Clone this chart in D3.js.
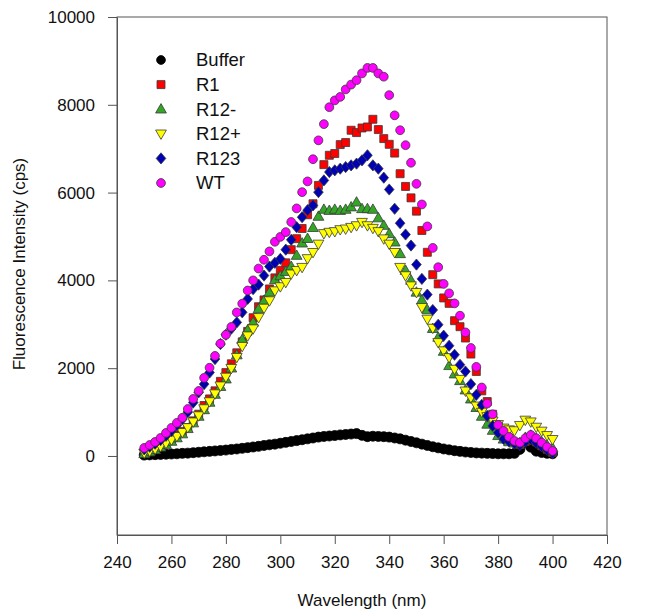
<!DOCTYPE html>
<html>
<head>
<meta charset="utf-8">
<script src="https://cdn.jsdelivr.net/npm/d3@7"></script>
<style>
body { margin: 0; background: #fff; }
text { font-family: "Liberation Sans", Arial, sans-serif; fill: #111; }
</style>
</head>
<body>
<svg id="chart" width="651" height="613"></svg>
<script>
// wavelength (nm), one reading every 2 nm
var wavelength = [250,252,254,256,258,260,262,264,266,268,
  270,272,274,276,278,280,282,284,286,288,
  290,292,294,296,298,300,302,304,306,308,
  310,312,314,316,318,320,322,324,326,328,
  330,332,334,336,338,340,342,344,346,348,
  350,352,354,356,358,360,362,364,366,368,
  370,372,374,376,378,380,382,384,386,388,
  390,392,394,396,398,400];

var buffer = [20,25,30,35,40,45,50,60,65,75,
  85,95,105,115,125,135,150,160,175,190,
  205,220,240,255,270,290,310,330,350,370,
  390,410,430,445,455,465,480,490,500,510,
  470,440,450,445,440,430,410,390,360,330,
  300,270,240,210,185,160,140,120,105,90,
  80,70,65,60,55,50,50,50,60,150,
  300,200,110,80,60,50];

var r1 = [60,100,150,210,280,380,480,560,646,800,
  952,1150,1300,1484,1700,1900,2100,2350,2600,2838,
  3150,3400,3555,3805,4057,4230,4400,4700,4950,5182,
  5495,5746,6164,6637,6850,6890,7093,7140,7420,7367,
  7472,7495,7670,7436,7230,7100,6900,6430,6140,5880,
  5577,5137,4640,4130,3920,3600,3477,3082,2945,2687,
  2322,1925,1484,1240,950,700,520,400,310,260,
  330,400,320,230,150,80];

var r12minus = [50,90,140,200,260,330,410,500,620,750,
  900,1050,1220,1400,1580,1750,2000,2300,2650,2870,
  3043,3350,3540,3728,4011,4100,4200,4315,4566,4847,
  4950,5200,5456,5615,5590,5615,5590,5615,5670,5780,
  5630,5630,5615,5420,5250,5060,4870,4605,4224,4000,
  3728,3550,3326,2900,2700,2380,2055,1865,1712,1500,
  1294,1100,900,720,580,460,380,320,290,300,
  420,470,400,320,240,180];

var r12plus = [70,110,160,220,290,370,450,540,650,780,
  920,1080,1240,1420,1600,1800,2000,2250,2500,2740,
  2900,3157,3372,3540,3767,3860,3957,4150,4230,4300,
  4500,4640,4830,5070,5100,5115,5160,5175,5212,5250,
  5326,5250,5190,5115,4950,4830,4640,4300,4110,3880,
  3728,3386,3120,2915,2587,2400,2245,1980,1750,1484,
  1330,1142,1000,900,800,720,640,600,580,700,
  820,780,660,570,470,380];

var r123 = [150,210,280,360,460,570,700,840,1000,1217,
  1450,1637,1900,2208,2550,2762,2900,3043,3272,3577,
  3800,3904,4110,4315,4400,4490,4700,4925,5212,5440,
  5600,5708,6010,6278,6468,6507,6545,6582,6620,6660,
  6735,6850,6620,6545,6340,6070,5632,5303,5045,4794,
  4360,4034,3676,3326,2990,2740,2511,2306,2078,1925,
  1637,1393,1164,913,685,532,388,330,280,250,
  320,380,300,220,140,70];

var wt = [183,250,320,410,525,640,755,870,1070,1300,
  1480,1780,2010,2280,2560,2760,2940,3270,3470,3770,
  4000,4270,4470,4660,4880,4990,5100,5330,5640,6010,
  6255,6760,7190,7560,7945,8100,8180,8350,8460,8560,
  8715,8840,8840,8715,8640,8220,7760,7420,7080,6680,
  6200,5730,5230,4740,4300,3920,3705,3477,3196,2815,
  2460,2030,1560,1195,950,708,570,434,342,304,
  404,480,404,304,205,114];

var seriesNames = ["Buffer", "R1", "R12-", "R12+", "R123", "WT"];
var seriesValues = [buffer, r1, r12minus, r12plus, r123, wt];
var seriesColors = ["#000000", "#ff0000", "#33a626", "#ffff00", "#0000b4", "#ff00ff"];
var seriesShapes = ["circle", "square", "triUp", "triDown", "diamond", "circle"];

var xTicks = [240, 260, 280, 300, 320, 340, 360, 380, 400, 420];
var yTicks = [0, 2000, 4000, 6000, 8000, 10000];

var svg = d3.select("#chart"),
  margin = {top: 17, right: 44, bottom: 78, left: 117},
  width = +svg.attr("width") - margin.left - margin.right,
  height = +svg.attr("height") - margin.top - margin.bottom,
  g = svg.append("g").attr("transform", "translate(" + margin.left + "," + margin.top + ")");

var x = d3.scaleLinear().domain([240, 420]).range([0, width]);
var y = d3.scaleLinear().domain([-1800, 10000]).range([height, 0]);

// marker path for each shape
function shapePath(shape) {
  if (shape == "circle") return "M4.4,0A4.4,4.4 0 1,1 -4.4,0A4.4,4.4 0 1,1 4.4,0Z";
  if (shape == "square") return "M-4,-4H4V4H-4Z";
  if (shape == "triUp") return "M0,-5.6L5.4,3.8L-5.4,3.8Z";
  if (shape == "triDown") return "M0,5.6L5.4,-3.8L-5.4,-3.8Z";
  if (shape == "diamond") return "M0,-5.6L4.8,0L0,5.6L-4.8,0Z";
}

// frame
g.append("rect")
  .attr("x", 0).attr("y", 0)
  .attr("width", width).attr("height", height)
  .attr("fill", "none")
  .attr("stroke", "#555")
  .attr("stroke-width", 1);

// series
seriesNames.forEach(function(name, si) {
  var pts = wavelength.map(function(w, i) { return {w: w, v: seriesValues[si][i]}; });
  var sg = g.append("g").attr("class", "series");
  var isBuffer = si == 0;
  sg.selectAll("path")
    .data(pts)
    .enter().append("path")
    .attr("d", isBuffer ? "M5,0A5,5 0 1,1 -5,0A5,5 0 1,1 5,0Z" : shapePath(seriesShapes[si]))
    .attr("transform", function(d) { return "translate(" + x(d.w) + "," + y(d.v) + ")"; })
    .attr("fill", seriesColors[si])
    .attr("stroke", isBuffer ? "#000" : "#3a3a3a")
    .attr("stroke-width", 0.8);
});

// axes
var xAxis = g.append("g")
  .attr("transform", "translate(0," + height + ")")
  .call(d3.axisBottom(x).tickValues(xTicks).tickSize(9).tickPadding(12).tickSizeOuter(0));
var yAxis = g.append("g")
  .call(d3.axisLeft(y).tickValues(yTicks).tickFormat(d3.format("d")).tickSize(9).tickPadding(13).tickSizeOuter(0));

[xAxis, yAxis].forEach(function(a) {
  a.select(".domain").attr("stroke", "#555");
  a.selectAll(".tick line").attr("stroke", "#555");
  a.selectAll(".tick text")
    .attr("font-family", "Liberation Sans, Arial, sans-serif")
    .attr("font-size", 17)
    .attr("fill", "#111");
});

g.append("text")
  .attr("x", width / 2)
  .attr("y", height + 71)
  .attr("text-anchor", "middle")
  .attr("font-size", 17)
  .text("Wavelength (nm)");

g.append("text")
  .attr("transform", "rotate(-90)")
  .attr("x", -(height / 2) + 12)
  .attr("y", -92)
  .attr("text-anchor", "middle")
  .attr("font-size", 17)
  .text("Fluorescence Intensity (cps)");

// legend
var legend = svg.append("g")
  .selectAll("g")
  .data(seriesNames)
  .enter().append("g")
  .attr("transform", function(d, i) { return "translate(161," + (60 + i * 24.6) + ")"; });

legend.append("path")
  .attr("d", function(d, i) { return shapePath(seriesShapes[i]); })
  .attr("fill", function(d, i) { return seriesColors[i]; })
  .attr("stroke", function(d, i) { return i == 0 ? "#000" : "#3a3a3a"; })
  .attr("stroke-width", 0.8);

legend.append("text")
  .attr("x", 35)
  .attr("dy", "0.35em")
  .attr("font-size", 18.5)
  .text(function(d) { return d; });
</script>
</body>
</html>
